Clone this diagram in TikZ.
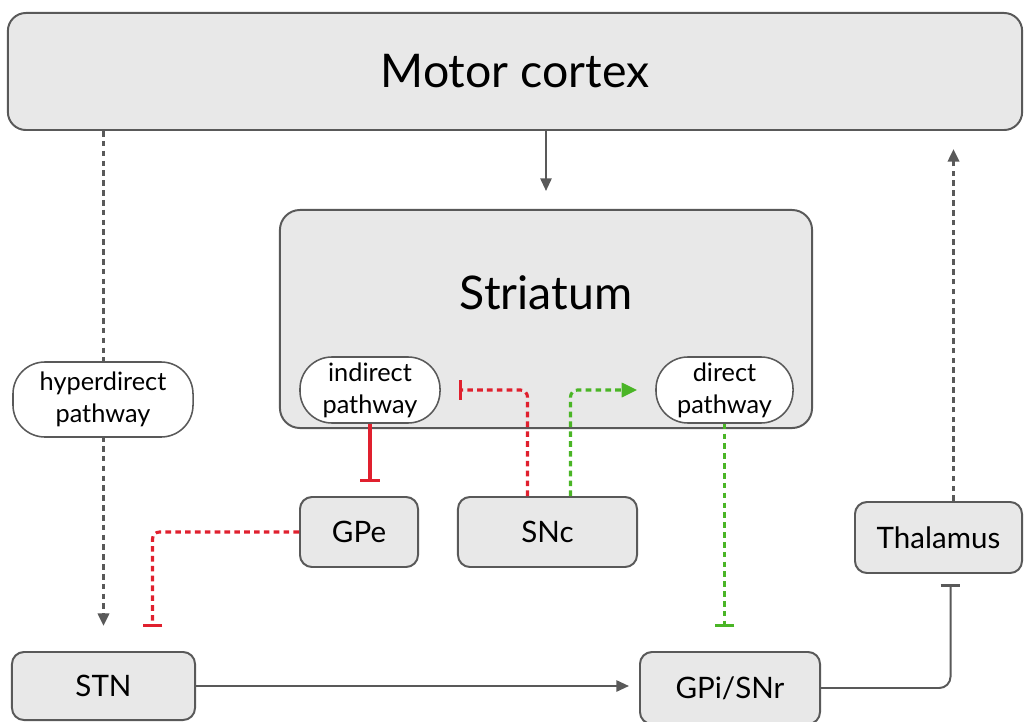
\documentclass[tikz,border=0pt]{standalone}
\usepackage{fontspec}
\setmainfont{Lato}
\usepackage{xcolor}
\usetikzlibrary{positioning,arrows.meta}
\definecolor{boxfill}{HTML}{E8E8E8}
\definecolor{edge}{HTML}{595959}
\definecolor{inhred}{HTML}{E0202E}
\definecolor{excgreen}{HTML}{4AB526}

\begin{document}
\begin{tikzpicture}[
  x=0.025cm, y=-0.025cm,
  box/.style={draw=edge,fill=boxfill,line width=1.4pt,rounded corners=0.3cm,inner sep=0pt,font=\fontsize{21}{24}\selectfont},
  big/.style={box,rounded corners=0.45cm,font=\fontsize{33}{36}\selectfont},
  pw/.style={draw=edge,fill=white,line width=1.1pt,rounded corners=0.8cm,inner sep=0pt,align=center,font=\fontsize{18}{22.7}\selectfont},
  con/.style={draw=edge,line width=1.4pt},
  dcon/.style={con,line width=2pt,dash pattern=on 4pt off 3pt},
  exc/.style={-{Triangle[length=9pt,width=8pt]}},
  inh/.style={-{Bar[width=14pt,line width=2.2pt]}},
  inhr/.style={draw=inhred,line width=2.4pt,inh},
  inhrd/.style={inhr,line width=2.2pt,dash pattern=on 4pt off 3pt},
  excg/.style={draw=excgreen,line width=2.2pt,dash pattern=on 4pt off 3pt,-{Triangle[length=11pt,width=10pt]}}
]
\useasboundingbox (0,0) rectangle (1025,722);

% ---------------- cortex and striatum ----------------
\node[big,minimum width=25.35cm,minimum height=2.925cm] (motor) at (515,71.5) {Motor cortex};
\node[big,rounded corners=0.5cm,minimum width=13.3cm,minimum height=5.45cm] (striatum) at (546,319) {};
\node[font=\fontsize{33}{36}\selectfont] (strlbl) at (546,293) {Striatum};
\node[pw,minimum width=3.5cm,minimum height=1.65cm] (indirect) at (370,390) {indirect\\pathway};
\node[pw,minimum width=3.425cm,minimum height=1.65cm] (direct) at (724.5,390) {direct\\pathway};

% ---------------- nuclei ----------------
\node[box,minimum width=2.95cm,minimum height=1.75cm] (GPe) at (359,532) {GPe};
\node[box,minimum width=4.475cm,minimum height=1.75cm] (SNc) at (547.5,532) {SNc};
\node[box,minimum width=4.575cm,minimum height=1.7cm] (STN) at (103.5,686) {STN};
\node[box,minimum width=4.5cm,minimum height=1.8cm] (GPi) at (730,688) {GPi/SNr};
\node[box,minimum width=4.175cm,minimum height=1.775cm] (thal) at (938.5,537.5) {Thalamus};

% ---------------- connections ----------------
\draw[con,exc,shorten >=0.45cm] (striatum.north |- motor.south) -- (striatum.north);
\draw[dcon,exc,shorten >=0.625cm] (STN.north |- motor.south) -- (STN.north);
\node[pw,minimum width=4.5cm,minimum height=1.875cm] (hyper) at (103,399.5) {hyperdirect\\pathway};
\draw[inhr,shorten >=0.35cm] (indirect.south) -- (indirect.south |- GPe.north);
\draw[inhrd,rounded corners=5pt] ([xshift=-0.5cm]SNc.north) |- ([xshift=0.45cm]indirect.east);
\draw[excg,rounded corners=5pt] ([xshift=0.575cm]SNc.north) |- ([xshift=-0.45cm]direct.west);
\draw[inhrd,rounded corners=5pt,shorten >=0.6cm] (GPe.west) -| ([xshift=1.225cm]STN.north);
\draw[draw=excgreen,line width=2.2pt,dash pattern=on 4pt off 3pt,inh,shorten >=0.6cm] (direct.south) -- (direct.south |- GPi.north);
\draw[con,exc,shorten >=0.25cm] (STN.east) -- (STN.east -| GPi.west);
\draw[con,inh,rounded corners=8pt,shorten >=0.25cm] (GPi.east) -| ([xshift=0.3cm]thal.south);
\draw[dcon,exc,shorten >=0.45cm] ([xshift=0.375cm]thal.north) -- ([xshift=0.375cm]thal.north |- motor.south);
\end{tikzpicture}
\end{document}
